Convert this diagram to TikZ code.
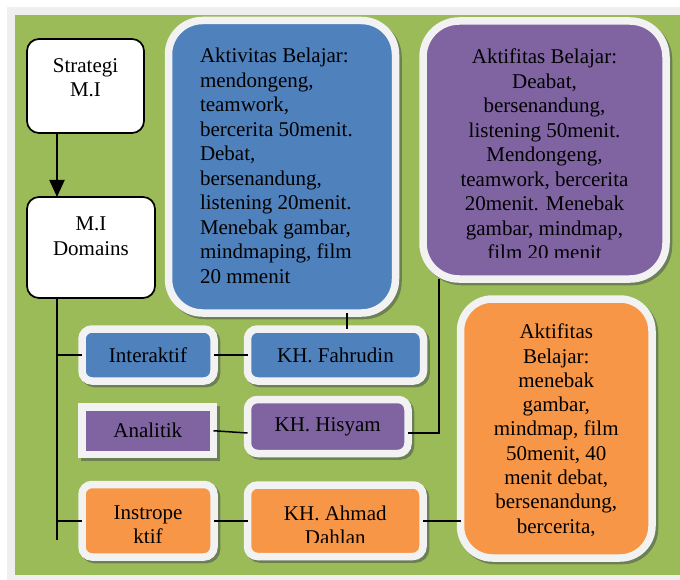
\documentclass[tikz,border=0pt]{standalone}
\usepackage{fontspec}
\setmainfont{Liberation Serif}
\usetikzlibrary{arrows.meta}
\definecolor{bggreen}{HTML}{9BBB59}
\definecolor{outergrey}{HTML}{EFEFEF}
\definecolor{frm}{HTML}{F2F2F2}
\definecolor{cblue}{HTML}{4F81BD}
\definecolor{cpurp}{HTML}{8064A2}
\definecolor{corng}{HTML}{F79646}
\definecolor{shd}{HTML}{6C8054}
\begin{document}
\begin{tikzpicture}[x=1pt,y=-1pt,
  every node/.style={font=\fontsize{21pt}{24.5pt}\selectfont, inner sep=0pt, outer sep=0pt},
  plainbox/.style={draw=black, line width=1.7pt, fill=white, rounded corners=12pt},
  framed/.style={draw=frm, line width=7.5pt,
    preaction={draw=shd, fill=shd, line width=7.5pt, transform canvas={shift={(2.5pt,-2.5pt)}}}},
  conn/.style={draw=black, line width=1.5pt},
]
\useasboundingbox (0,0) rectangle (680,580);
\fill[white] (0,0) rectangle (680,580);
\fill[outergrey] (7,7) rectangle (680,580);
\fill[bggreen] (15,15) rectangle (680,575);

% left column
\node[plainbox, minimum width=117pt, minimum height=94pt] (strat) at (85.5,86) {};
\node[anchor=north, align=center] (stratT) at (85.5,58.5) {Strategi\\M.I};
\node[plainbox, minimum width=128pt, minimum height=101pt] (dom) at (91,247.5) {};
\node[anchor=north, align=center] (domT) at (91,216.8) {M.I\\Domains};

% big boxes
\node[framed, fill=cblue, rounded corners=34pt, minimum width=227pt, minimum height=292.5pt] (blue) at (282,166.75) {};
\node[anchor=north west, align=left] (blueT) at (200,48) {Aktivitas Belajar:\\mendongeng,\\teamwork,\\bercerita 50menit.\\Debat,\\bersenandung,\\listening 20menit.\\Menebak gambar,\\mindmaping, film\\20 mmenit};

\node[framed, fill=cpurp, rounded corners=36pt, minimum width=243pt, minimum height=258pt] (purp) at (544.5,150) {};
\begin{scope}
\clip (427,25) rectangle (662,257);
\node[anchor=north, align=center] (purpT) at (544.5,49) {Aktifitas Belajar:\\Deabat,\\bersenandung,\\listening 50menit.\\Mendongeng,\\teamwork, bercerita\\20menit. Menebak\\gambar, mindmap,\\film 20 menit};
\end{scope}

\node[framed, fill=corng, rounded corners=32pt, minimum width=191.5pt, minimum height=259pt] (orn) at (556.25,428.5) {};
\node[anchor=north, align=center, font=\fontsize{21pt}{24.3pt}\selectfont] (ornT) at (556.25,324) {Aktifitas\\Belajar:\\menebak\\gambar,\\mindmap, film\\50menit, 40\\menit debat,\\bersenandung,\\bercerita,};

% domain boxes
\node[framed, fill=cblue, rounded corners=10pt, minimum width=132pt, minimum height=52pt] (inter) at (148,355) {Interaktif};
\node[framed, fill=cpurp, minimum width=131.5pt, minimum height=47.5pt] (ana) at (147.75,430.75) {Analitik};
\node[framed, fill=corng, rounded corners=10pt, minimum width=132pt, minimum height=72.5pt] (inst) at (148,520.75) {};
\begin{scope}
\clip (86,488) rectangle (210,542);
\node[anchor=north, align=center] (instT) at (148,505.4) {Instrope\\ktif};
\end{scope}

% KH boxes
\node[framed, fill=cblue, rounded corners=10pt, minimum width=176pt, minimum height=52pt] (fahr) at (335.5,355) {KH. Fahrudin};
\node[framed, fill=cpurp, rounded corners=10pt, minimum width=160.5pt, minimum height=54pt] (his) at (327.75,426.5) {KH. Hisyam};
\node[framed, fill=corng, rounded corners=10pt, minimum width=175.5pt, minimum height=71.5pt] (dah) at (335.25,520.75) {};
\begin{scope}
\clip (252,488) rectangle (419,542);
\node[anchor=north, align=center] (dahT) at (335.25,505.7) {KH. Ahmad\\Dahlan};
\end{scope}

% connectors
\coordinate (tx) at (57,0);
\coordinate (tend) at (0,540);
\coordinate (bx) at (347,0);
\coordinate (hy) at (0,433);
\coordinate (px) at (439,0);
\draw[line width=2pt, -{Triangle[length=17pt,width=15pt]}] (strat.south -| tx) -- (dom.north -| tx);
\draw[conn] (dom.south -| tx) -- (tx |- tend);
\draw[conn] (tx |- inter.west) -- (inter.west);
\draw[conn] (tx |- inst.west) -- (inst.west);
\draw[conn] (inter.east) -- (fahr.west);
\draw[conn] (ana.east) -- (his.west |- hy);
\draw[conn] (inst.east) -- (dah.west);
\draw[conn] (blue.south -| bx) -- (fahr.north -| bx);
\draw[conn] (his.east |- hy) -| (purp.south -| px);
\draw[conn] (dah.east) -- (dah.east -| orn.west);
\end{tikzpicture}
\end{document}
